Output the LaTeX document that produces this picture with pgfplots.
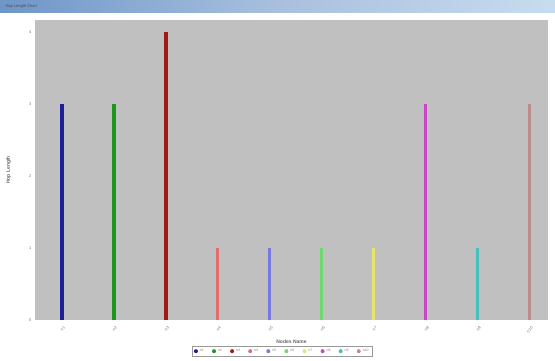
\documentclass[border=0pt]{standalone}
\usepackage{fontspec}
\setmainfont{Liberation Sans}
\usepackage{pgfplots}
\pgfplotsset{compat=1.18}
\definecolor{bg}{RGB}{192,192,192}
\definecolor{c1}{RGB}{30,30,150}
\definecolor{c2}{RGB}{30,150,30}
\definecolor{c3}{RGB}{160,25,25}
\definecolor{c4}{RGB}{225,110,110}
\definecolor{c5}{RGB}{120,120,225}
\definecolor{c6}{RGB}{110,215,110}
\definecolor{c7}{RGB}{230,230,110}
\definecolor{c8}{RGB}{200,70,200}
\definecolor{c9}{RGB}{70,190,190}
\definecolor{c10}{RGB}{190,140,140}
\definecolor{tb1}{RGB}{110,150,200}
\definecolor{tb2}{RGB}{200,220,240}
\begin{document}
\begin{tikzpicture}[x=1pt,y=1pt]
\useasboundingbox (0,0) rectangle (555,360);
\fill[white] (0,0) rectangle (555,360);
\shade[left color=tb1, right color=tb2, middle color=tb1!60!white] (0,348) rectangle (555,360);
\node[anchor=west,font=\fontsize{4}{5}\selectfont,text=black!70] at (2,354) {Hop Length Chart};
\begin{axis}[
  at={(35pt,40pt)}, anchor=south west,
  scale only axis, width=513pt, height=300pt,
  xmin=0.48, xmax=10.35, ymin=0, ymax=4.17,
  axis background/.style={fill=bg},
  axis line style={draw=none},
  xtick={1,...,10},
  xticklabels={n1,n2,n3,n4,n5,n6,n7,n8,n9,n10},
  xticklabel style={rotate=45, anchor=north east, font=\fontsize{4}{5}\selectfont, text=black!55, yshift=-2pt},
  ytick={0,1,2,3,4},
  yticklabel style={font=\fontsize{4}{5}\selectfont, text=black!55},
  /pgf/number format/assume math mode=true,
  major tick length=0pt,
  ylabel={Hop Length},
  ylabel style={font=\fontsize{5}{6}\selectfont\bfseries, text=black!60, at={(axis description cs:-0.04,0.5)}},
  xlabel={Nodes Name},
  xlabel style={font=\fontsize{5}{6}\selectfont\bfseries, text=black!60, at={(axis description cs:0.5,-0.055)}},
  legend columns=10,
  legend style={at={(axis description cs:0.482,-0.085)}, anchor=north, font=\fontsize{3.5}{4}\selectfont, draw=black!40, inner sep=1.5pt, text=black!50,
    /tikz/every even column/.append style={column sep=6.2pt}},
  legend image code/.code={\fill[#1, draw=none] (0.12cm,0cm) circle[radius=2pt];},
]
\addplot[c1, line width=3.5pt, ycomb] coordinates {(1,3)}; \addlegendentry{n1}
\addplot[c2, line width=3.5pt, ycomb] coordinates {(2,3)}; \addlegendentry{n2}
\addplot[c3, line width=3.5pt, ycomb] coordinates {(3,4)}; \addlegendentry{n3}
\addplot[c4, line width=3pt, ycomb] coordinates {(4,1)}; \addlegendentry{n4}
\addplot[c5, line width=3pt, ycomb] coordinates {(5,1)}; \addlegendentry{n5}
\addplot[c6, line width=3pt, ycomb] coordinates {(6,1)}; \addlegendentry{n6}
\addplot[c7, line width=3pt, ycomb] coordinates {(7,1)}; \addlegendentry{n7}
\addplot[c8, line width=3pt, ycomb] coordinates {(8,3)}; \addlegendentry{n8}
\addplot[c9, line width=3pt, ycomb] coordinates {(9,1)}; \addlegendentry{n9}
\addplot[c10, line width=3pt, ycomb] coordinates {(10,3)}; \addlegendentry{n10}
\end{axis}
\end{tikzpicture}
\end{document}
